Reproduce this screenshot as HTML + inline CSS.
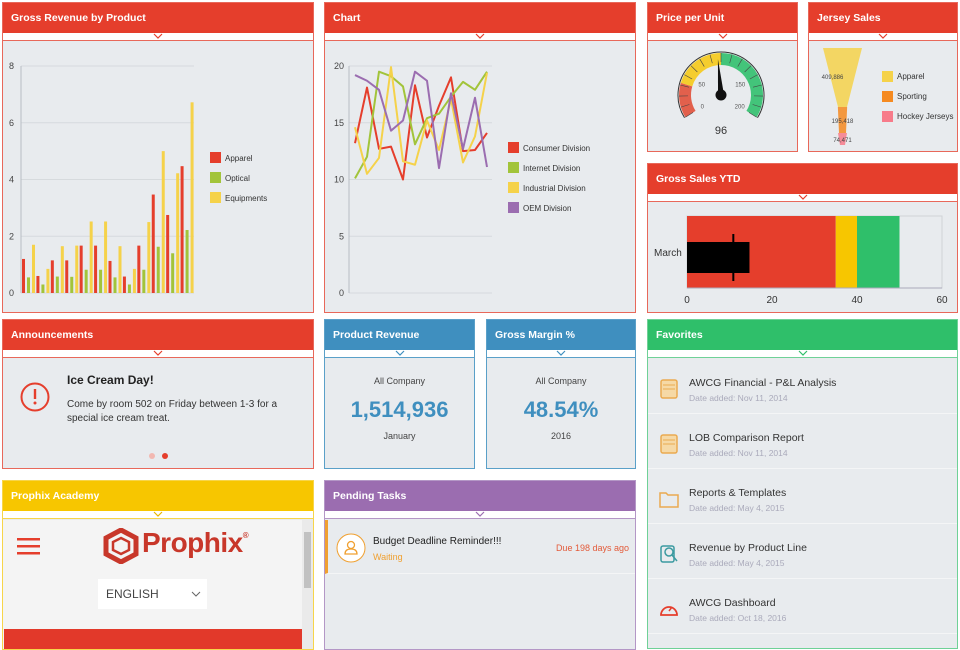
<!DOCTYPE html>
<html><head><meta charset="utf-8"><style>
*{box-sizing:border-box;margin:0;padding:0}
body{width:960px;height:645px;overflow:hidden;background:#fff;font-family:"Liberation Sans",sans-serif;position:relative}
.p{position:absolute;border:1px solid;background:#e8ebee;overflow:hidden}
.h{position:absolute;left:0;right:0;top:0;height:30px;color:#fff;font-size:10.5px;font-weight:bold;line-height:30px;padding-left:8px}
.s{position:absolute;left:0;right:0;top:30px;height:8px;background:#fff;border-bottom:1px solid}
.s svg{position:absolute;left:50%;top:0;margin-left:-5px}
.red{border-color:#e8685a}.red .h{background:#e53e2c}.red .s{border-color:#e8685a}
.blue{border-color:#5aa0c8}.blue .h{background:#3f8fbf}.blue .s{border-color:#5aa0c8}
.green{border-color:#6fd197}.green .h{background:#2fbf6a}.green .s{border-color:#6fd197}
.yel{border-color:#f7d54a}.yel .h{background:#f7c600}.yel .s{border-color:#f7d54a}
.pur{border-color:#b497c6}.pur .h{background:#9b6db0}.pur .s{border-color:#b497c6}
svg text{font-family:"Liberation Sans",sans-serif}
.t{position:absolute;white-space:nowrap}
</style></head><body>
<svg width="0" height="0" style="position:absolute"><defs>
<symbol id="chev" viewBox="0 0 10 6"><path d="M1 1 L5 5 L9 1" fill="none" stroke="currentColor" stroke-width="1.2"/></symbol></defs></svg>

<div class="p red" style="left:2px;top:2px;width:312px;height:311px">
<div class="h">Gross Revenue by Product</div>
<div class="s" style="color:#e53e2c"><svg width="10" height="6"><use href="#chev"/></svg></div></div>

<div class="p red" style="left:324px;top:2px;width:312px;height:311px">
<div class="h">Chart</div>
<div class="s" style="color:#e53e2c"><svg width="10" height="6"><use href="#chev"/></svg></div></div>

<div class="p red" style="left:647px;top:2px;width:151px;height:150px">
<div class="h">Price per Unit</div>
<div class="s" style="color:#e53e2c"><svg width="10" height="6"><use href="#chev"/></svg></div></div>

<div class="p red" style="left:808px;top:2px;width:150px;height:150px">
<div class="h">Jersey Sales</div>
<div class="s" style="color:#e53e2c"><svg width="10" height="6"><use href="#chev"/></svg></div></div>

<div class="p red" style="left:647px;top:163px;width:311px;height:150px">
<div class="h">Gross Sales YTD</div>
<div class="s" style="color:#e53e2c"><svg width="10" height="6"><use href="#chev"/></svg></div></div>

<div class="p red" style="left:2px;top:319px;width:312px;height:150px">
<div class="h">Announcements</div>
<div class="s" style="color:#e53e2c"><svg width="10" height="6"><use href="#chev"/></svg></div>
<svg style="position:absolute;left:16px;top:62px" width="32" height="32"><circle cx="16" cy="15" r="13.5" fill="none" stroke="#e53e2c" stroke-width="2"/><rect x="14.8" y="7" width="2.4" height="10" fill="#e53e2c"/><circle cx="16" cy="21" r="1.5" fill="#e53e2c"/></svg>
<div class="t" style="left:64px;top:53px;font-size:12px;font-weight:bold;color:#222">Ice Cream Day!</div>
<div class="t" style="left:64px;top:78px;font-size:10px;line-height:14px;color:#333">Come by room 502 on Friday between 1-3 for a<br>special ice cream treat.</div>
<div style="position:absolute;left:146px;top:133px;width:6px;height:6px;border-radius:3px;background:#f2b8b1"></div>
<div style="position:absolute;left:159px;top:133px;width:6px;height:6px;border-radius:3px;background:#e53e2c"></div>
</div>

<div class="p blue" style="left:324px;top:319px;width:151px;height:150px">
<div class="h">Product Revenue</div>
<div class="s" style="color:#3f8fbf"><svg width="10" height="6"><use href="#chev"/></svg></div>
<div class="t" style="left:0;right:0;top:56px;text-align:center;font-size:9px;color:#444">All Company</div>
<div class="t" style="left:0;right:0;top:77px;text-align:center;font-size:22px;font-weight:bold;color:#3f8fbf">1,514,936</div>
<div class="t" style="left:0;right:0;top:111px;text-align:center;font-size:9px;color:#444">January</div>
</div>

<div class="p blue" style="left:486px;top:319px;width:150px;height:150px">
<div class="h">Gross Margin %</div>
<div class="s" style="color:#3f8fbf"><svg width="10" height="6"><use href="#chev"/></svg></div>
<div class="t" style="left:0;right:0;top:56px;text-align:center;font-size:9px;color:#444">All Company</div>
<div class="t" style="left:0;right:0;top:77px;text-align:center;font-size:22px;font-weight:bold;color:#3f8fbf">48.54%</div>
<div class="t" style="left:0;right:0;top:111px;text-align:center;font-size:9px;color:#444">2016</div>
</div>

<div class="p green" style="left:647px;top:319px;width:311px;height:330px">
<div class="h">Favorites</div>
<div class="s" style="color:#2fbf6a"><svg width="10" height="6"><use href="#chev"/></svg></div>
<div id="favs"></div>
</div>

<div class="p yel" style="left:2px;top:480px;width:312px;height:170px">
<div class="h">Prophix Academy</div>
<div class="s" style="color:#e8b800"><svg width="10" height="6"><use href="#chev"/></svg></div>
<div style="position:absolute;left:0;top:39px;width:299px;height:130px;background:#f4f4f4">
<svg style="position:absolute;left:14px;top:18px" width="24" height="18"><rect y="0" width="23" height="2.5" fill="#e53e2c"/><rect y="7" width="23" height="2.5" fill="#e53e2c"/><rect y="14" width="23" height="2.5" fill="#e53e2c"/></svg>
<svg style="position:absolute;left:100px;top:8px" width="36" height="36"><path d="M18 2 L33 10 L33 26 L18 34 L3 26 L3 10 Z" fill="none" stroke="#c8372a" stroke-width="5"/><path d="M18 10 L26 14 L26 22 L18 26 L10 22 L10 14 Z" fill="none" stroke="#c8372a" stroke-width="2.5"/></svg>
<div class="t" style="left:139px;top:7px;font-size:28px;font-weight:bold;color:#c8372a;letter-spacing:-0.5px">Prophix<sup style="font-size:8px;vertical-align:top;position:relative;top:4px">®</sup></div>
<div style="position:absolute;left:95px;top:59px;width:109px;height:30px;background:#fff;font-size:12px;color:#444;line-height:30px;padding-left:8px">ENGLISH<svg style="position:absolute;right:6px;top:12px" width="10" height="6"><path d="M1 1 L5 5 L9 1" fill="none" stroke="#666"/></svg></div>
<div style="position:absolute;left:1px;top:109px;width:298px;height:25px;background:#e2392a"></div>
</div>
<div style="position:absolute;left:299px;top:39px;width:11px;height:130px;background:#eaeaea"><div style="position:absolute;left:2px;top:12px;width:7px;height:56px;background:#c1c1c1"></div></div>
</div>

<div class="p pur" style="left:324px;top:480px;width:312px;height:170px">
<div class="h">Pending Tasks</div>
<div class="s" style="color:#9b6db0"><svg width="10" height="6"><use href="#chev"/></svg></div>
<div style="position:absolute;left:0;top:39px;right:0;height:54px;border-bottom:1px solid #f4f5f6;border-left:3px solid #f0a030">
<svg style="position:absolute;left:8px;top:13px" width="30" height="30"><circle cx="15" cy="15" r="14" fill="#fff" stroke="#f0a030" stroke-width="1"/><circle cx="15" cy="12" r="3.5" fill="none" stroke="#f0a030" stroke-width="1.3"/><path d="M9 21 Q9 16 15 16 Q21 16 21 21 Z" fill="none" stroke="#f0a030" stroke-width="1.3"/></svg>
<div class="t" style="left:45px;top:16px;font-size:10px;color:#222">Budget Deadline Reminder!!!</div>
<div class="t" style="left:45px;top:32px;font-size:9px;color:#f0a030">Waiting</div>
<div class="t" style="right:6px;top:23px;font-size:9px;color:#e35b3a">Due 198 days ago</div>
</div>
</div>

<svg id="charts" width="960" height="645" style="position:absolute;left:0;top:0;pointer-events:none"></svg>

<script>
// ---- Bar chart data
const barCats = ["1","2","3","4","5","6","7","8","9","10","11","12"];
const apparel = [1.2,0.6,1.15,1.15,1.67,1.67,1.13,0.58,1.67,3.47,2.75,4.47];
const optical = [0.55,0.3,0.58,0.57,0.82,0.82,0.55,0.3,0.82,1.63,1.4,2.22];
const equipments = [1.7,0.85,1.65,1.67,2.52,2.52,1.65,0.85,2.5,5.0,4.22,6.72];
const barTicks = [0,2,4,6,8];
// ---- Line chart data
const lineCats = ["1","2","3","4","5","6","7","8","9","10","11","12"];
const consumer = [13.2,18.1,12.7,12.9,10,18.3,13.7,16.5,19,12.5,12.6,14.1];
const internet = [10.1,12,19.5,19.1,18.2,13.1,15.4,15.8,17.3,18.6,17.9,19.5];
const industrial = [14.6,10.5,11.9,19.9,11.6,11.3,15.2,12.6,17.1,11.5,13.8,19.4];
const oem = [19.2,18.7,17.9,14.3,15.2,19.5,18.7,11,17.6,12.7,17.2,11.1];
const lineTicks = [0,5,10,15,20];
// ---- Gauge
const gaugeValue = 96;
const gaugeTicks = [0,50,150,200];
// ---- Funnel
const funnelLabels = ["Apparel","Sporting","Hockey Jerseys"];
const funnelValues = [409886,195418,74471];
// ---- Bullet
const bulletRanges = [35,40,50];
const bulletValue = 14.7;
const bulletTarget = 10.9;
const bulletTicks = [0,20,40,60];

const NS="http://www.w3.org/2000/svg";
const root=document.getElementById('charts');
function mk(tag,attrs,parent,text){const e=document.createElementNS(NS,tag);for(const k in attrs)e.setAttribute(k,attrs[k]);if(text!==undefined)e.textContent=text;(parent||root).appendChild(e);return e;}

// Bar chart
(function(){
const g=mk('g',{});


const x0=21,x1=194,y0=293,y1=66,max=8;
const ys=v=>y0-(v/max)*(y0-y1);
barTicks.forEach(t=>{
 const l=mk('line',{x1:x0,x2:x1,y1:ys(t),y2:ys(t),stroke:'#d6dadd'},g);
 
 
 const tx=mk('text',{x:14,y:ys(t)+3,'font-size':9,fill:'#444','text-anchor':'end'},g,t);
 
 
});
mk('line',{x1:x0,x2:x0,y1:y1,y2:y0,stroke:'#b8bec4'},g);
const gw=(x1-x0)/barCats.length;
const series=[[apparel,'#e53e2c'],[optical,'#a2c43a'],[equipments,'#f5d24a']];
barCats.forEach((c,i)=>{
 series.forEach((s,j)=>{
  const v=s[0][i];
  const r=mk('rect',{x:x0+i*gw+1+j*5,y:ys(v),width:3,height:y0-ys(v),fill:s[1]},g);
  
  
 });
});
['Apparel','Optical','Equipments'].forEach((n,j)=>{
 const r=mk('rect',{x:210,y:152+j*20,width:11,height:11,fill:series[j][1]},g);
 
 
 const t=mk('text',{x:225,y:161+j*20,'font-size':8,fill:'#333'},g,n);
 
 
});
})();

// Line chart
(function(){
const g=mk('g',{});


const x0=349,x1=492,y0=293,y1=66,max=20,px0=355,px1=487;
const ys=v=>y0-(v/max)*(y0-y1);
const xs=i=>px0+i*(px1-px0)/(lineCats.length-1);
lineTicks.forEach(t=>{
 const l=mk('line',{x1:x0,x2:x1,y1:ys(t),y2:ys(t),stroke:'#d6dadd'},g);
 
 
 const tx=mk('text',{x:344,y:ys(t)+3,'font-size':9,fill:'#444','text-anchor':'end'},g,t);
 
 
});
mk('line',{x1:x0,x2:x0,y1:y1,y2:y0,stroke:'#b8bec4'},g);
const series=[[consumer,'#e53e2c','Consumer Division'],[internet,'#a2c43a','Internet Division'],[industrial,'#f5d24a','Industrial Division'],[oem,'#9b6db0','OEM Division']];
series.forEach((s,j)=>{
 const p=mk('polyline',{points:s[0].map((v,i)=>xs(i)+','+ys(v)).join(' '),fill:'none',stroke:s[1],'stroke-width':2,'stroke-linejoin':'round'},g);
 
 
 const r=mk('rect',{x:508,y:142+j*20,width:11,height:11,fill:s[1]},g);
 
 
 const t=mk('text',{x:523,y:151+j*20,'font-size':8,fill:'#333'},g,s[2]);
 
 
});
})();

// Gauge
(function(){
const g=mk('g',{});


const cx=721,cy=95,R=42,r=30,A=122,max=200;
const ang=v=>(-A+v/max*2*A)*Math.PI/180;
const pt=(v,rad)=>[cx+rad*Math.sin(ang(v)),cy-rad*Math.cos(ang(v))];
function band(a,b,col){
 const [ax,ay]=pt(a,R),[bx,by]=pt(b,R),[cx2,cy2]=pt(b,r),[dx,dy]=pt(a,r);
 const large=(b-a)/max*2*A>180?1:0;
 const p=mk('path',{d:`M${ax} ${ay} A${R} ${R} 0 ${large} 1 ${bx} ${by} L${cx2} ${cy2} A${r} ${r} 0 ${large} 0 ${dx} ${dy} Z`,fill:col},g);
 
 
}
band(0,40,'#e2604c');band(40,100,'#f5cd2e');band(100,200,'#43c47a');
for(let v=0;v<=200;v+=12.5){const [a1,b1]=pt(v,R),[a2,b2]=pt(v,R-9);mk('line',{x1:a1,y1:b1,x2:a2,y2:b2,stroke:'#444','stroke-width':0.6},g);}
const [ox,oy]=pt(0,R+1),[ex,ey]=pt(200,R+1);
mk('path',{d:`M${ox} ${oy} A${R+1} ${R+1} 0 1 1 ${ex} ${ey}`,fill:'none',stroke:'#333','stroke-width':1},g);
gaugeTicks.forEach(t=>{const [x,y]=pt(t,r-8);const tx=mk('text',{x:x,y:y+2,'font-size':6,fill:'#555','text-anchor':'middle'},g,t);
 
 });
const a=ang(gaugeValue);const tipx=cx+36*Math.sin(a),tipy=cy-36*Math.cos(a);
const nx=Math.cos(a)*3,ny=Math.sin(a)*3;
const n=mk('path',{d:`M${cx+nx} ${cy+ny} L${tipx} ${tipy} L${cx-nx} ${cy-ny} Z`,fill:'#111'},g);


mk('circle',{cx:cx,cy:cy,r:5.5,fill:'#111'},g);
const v=mk('text',{x:cx,y:134,'font-size':11,fill:'#333','text-anchor':'middle'},g,gaugeValue);


})();

// Funnel
(function(){
const g=mk('g',{});


const cx=842.5,top=48,maxW=39;
const cols=['#f5d24a','#f58a20','#f77b8a'];
const hs=[59,26,12];
let y=top;
const w=v=>maxW*v/funnelValues[0];
funnelValues.forEach((v,i)=>{
 const wt=i===0?maxW:Math.max(w(v)*0.5,9);
 const wb=i===0?9:(i===1?7:5);
 const p=mk('path',{d:`M${cx-wt/2} ${y} L${cx+wt/2} ${y} L${cx+wb/2} ${y+hs[i]} L${cx-wb/2} ${y+hs[i]} Z`,fill:cols[i],opacity:0.85},g);
 
 
 const lx=i===0?cx-10:cx;
 const t=mk('text',{x:lx,y:i===0?y+31:y+hs[i]-10+(i===2?7:0),'font-size':6,fill:'#444','text-anchor':'middle'},g,v.toLocaleString('en-US'));
 
 
 const r=mk('rect',{x:882,y:71+i*20,width:11,height:11,fill:cols[i]},g);
 
 
 const lt=mk('text',{x:897,y:79+i*20,'font-size':8,fill:'#333'},g,funnelLabels[i]);
 
 
 y+=hs[i];
});
})();

// Bullet
(function(){
const g=mk('g',{});


const x0=687,x1=942,max=60,yt=216,yb=288;
const xs=v=>x0+v/max*(x1-x0);
mk('rect',{x:x0,y:yt,width:x1-x0,height:yb-yt,fill:'#e8ebee',stroke:'#cfd3d7'},g);
const cols=['#e53e2c','#f7c600','#2fbf6a'];
let prev=0;
bulletRanges.forEach((v,i)=>{const r=mk('rect',{x:xs(prev),y:yt,width:xs(v)-xs(prev),height:yb-yt,fill:cols[i]},g);
 
 prev=v;});
mk('line',{x1:x0,x2:x1,y1:yb,y2:yb,stroke:'#aab',},g);
const b=mk('rect',{x:x0,y:242,width:xs(bulletValue)-x0,height:31,fill:'#000'},g);


const t=mk('rect',{x:xs(bulletTarget)-1,y:234,width:2,height:47,fill:'#000'},g);


bulletTicks.forEach(v=>{const tx=mk('text',{x:xs(v),y:303,'font-size':10,fill:'#333','text-anchor':'middle'},g,v);
 
 });
const l=mk('text',{x:654,y:256,'font-size':10,fill:'#333'},g,'March');


})();

// Favorites
const favs=[["AWCG Financial - P&L Analysis","Nov 11, 2014","report"],["LOB Comparison Report","Nov 11, 2014","report"],["Reports & Templates","May 4, 2015","folder"],["Revenue by Product Line","May 4, 2015","search"],["AWCG Dashboard","Oct 18, 2016","dash"]];
const fc=document.getElementById('favs');
favs.forEach((f,i)=>{
 const d=document.createElement('div');
 
 
 d.style.cssText=`position:absolute;left:0;right:0;top:${39+i*55}px;height:55px;border-bottom:1px solid #f4f5f6`;
 let icon='';
 if(f[2]==='report')icon='<rect x="2" y="1" width="16" height="18" rx="2" fill="#f6d9a6" stroke="#eaaa50" stroke-width="1.5"/><line x1="4" y1="6" x2="16" y2="6" stroke="#eaaa50"/><line x1="4" y1="10" x2="16" y2="10" stroke="#eaaa50"/>';
 else if(f[2]==='folder')icon='<path d="M1 4 L7 4 L9 6 L19 6 L19 18 L1 18 Z" fill="none" stroke="#eaaa50" stroke-width="1.5"/>';
 else if(f[2]==='search')icon='<rect x="2" y="2" width="13" height="16" rx="2" fill="none" stroke="#3b9aa0" stroke-width="1.5"/><circle cx="10" cy="8" r="4" fill="none" stroke="#3b9aa0" stroke-width="1.5"/><line x1="13" y1="11" x2="18" y2="17" stroke="#3b9aa0" stroke-width="1.5"/>';
 else icon='<path d="M2 16 A8 8 0 1 1 18 16 Z" fill="none" stroke="#e53e2c" stroke-width="1.8"/><line x1="10" y1="12" x2="13" y2="8" stroke="#e53e2c" stroke-width="1.5"/>';
 d.innerHTML=`<svg style="position:absolute;left:11px;top:20px" width="20" height="20">${icon}</svg><div class="t" style="left:41px;top:18px;font-size:10.5px;color:#333">${f[0].replace('&','&amp;')}</div><div class="t" style="left:41px;top:34px;font-size:8.5px;color:#aab">Date added: ${f[1]}</div>`;
 fc.appendChild(d);
});
</script>
</body></html>
